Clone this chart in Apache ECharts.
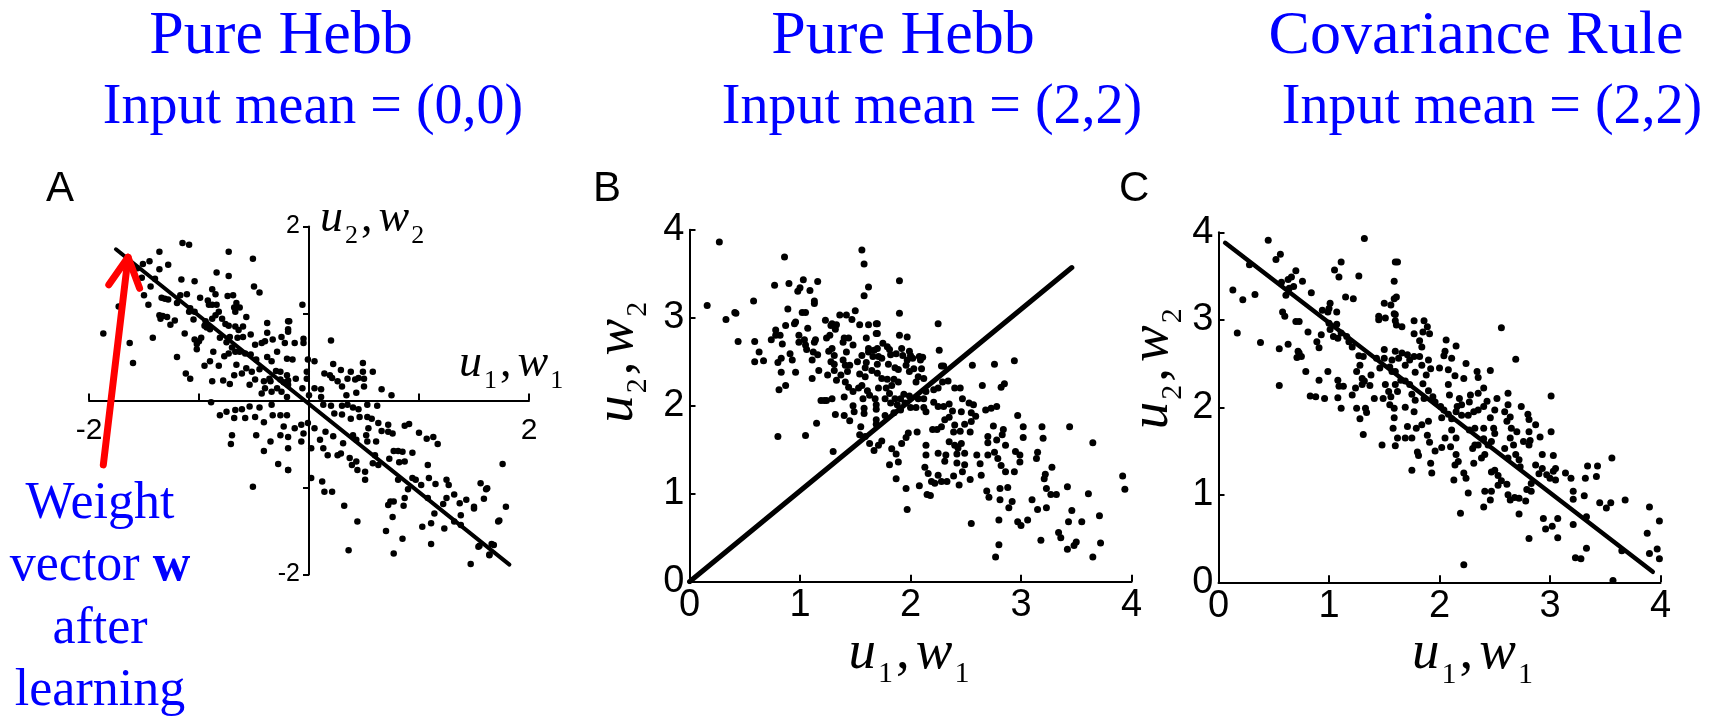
<!DOCTYPE html>
<html>
<head>
<meta charset="utf-8">
<title>Pure Hebb vs Covariance Rule</title>
<script src="https://cdn.jsdelivr.net/npm/echarts@6/dist/echarts.min.js"></script>
<style>
  html, body { margin: 0; padding: 0; background: #fff; }
  #chart { width: 1729px; height: 722px; }
</style>
</head>
<body>
<div id="chart"></div>
<script>
// text
const titles = ['Pure Hebb', 'Pure Hebb', 'Covariance Rule'];
const subtitles = ['Input mean = (0,0)', 'Input mean = (2,2)', 'Input mean = (2,2)'];
const panelLetters = ['A', 'B', 'C'];
const noteLines = 'Weight\nvector {b|w}\nafter\nlearning';

// axis ranges
const rangeA = [-2, 2];
const rangeBC = [0, 4];

// weight-vector direction lines (end points, data units)
const lineA = [[-1.755, 1.738], [1.822, -1.886]];
const lineB = [[0, 0], [3.46, 3.57]];
const lineC = [[0.06, 3.88], [3.93, 0.12]];

// red arrow in A
const arrowShaft = [[-1.87, -0.74], [-1.645, 1.646]];
const arrowHead = [[-1.82, 1.33], [-1.645, 1.646], [-1.54, 1.29]];

// samples
const pointsA = [
  [-1.87,0.77],[-1.73,1.08],[-1.63,0.66],[-1.60,0.43],[-1.15,1.81],[-1.09,1.79],[-1.36,1.71],[-1.45,1.60],[-1.51,1.57],[-1.56,1.52],
  [-1.52,1.41],[-1.50,1.21],[-1.46,1.10],[-1.42,0.72],[-1.36,1.51],[-1.28,1.56],[-1.40,1.40],[-1.44,1.31],[-1.34,1.18],[-1.31,1.17],
  [-1.28,1.16],[-1.36,0.98],[-1.33,0.97],[-1.29,0.96],[-1.26,0.87],[-1.35,0.94],[-1.22,0.92],[-1.20,1.12],[-1.17,1.21],[-1.16,1.39],
  [-1.11,1.22],[-1.04,1.37],[-1.09,1.02],[-1.08,1.06],[-1.13,0.77],[-1.20,0.50],[-1.12,0.31],[-1.08,0.25],[-1.05,0.93],[-1.04,1.02],
  [-0.99,1.18],[-0.91,1.10],[-0.92,1.15],[-1.04,0.70],[-1.02,0.65],[-1.02,0.59],[-1.00,0.68],[-0.98,0.72],[-0.94,0.91],[-0.95,0.86],
  [-0.93,0.84],[-0.90,0.82],[-0.88,0.94],[-0.84,1.47],[-0.88,1.28],[-0.85,1.22],[-0.88,1.10],[-0.84,1.10],[-0.85,0.98],[-0.82,1.02],
  [-0.87,0.56],[-0.95,0.40],[-0.90,0.45],[-0.88,0.22],[-0.79,0.94],[-0.76,0.88],[-0.81,0.72],[-0.75,0.67],[-0.72,0.73],[-0.70,0.61],
  [-0.73,0.54],[-0.77,0.51],[-0.82,0.40],[-0.73,1.71],[-0.73,1.43],[-0.74,1.20],[-0.69,1.21],[-0.68,1.07],[-0.67,1.02],[-0.66,1.12],
  [-0.63,1.07],[-0.73,0.86],[-0.67,0.85],[-0.64,0.81],[-0.60,0.85],[-0.57,0.96],[-0.65,0.72],[-0.60,0.73],[-0.67,0.56],[-0.63,0.56],
  [-0.58,0.54],[-0.66,0.41],[-0.61,0.31],[-0.68,0.29],[-0.78,0.23],[-0.72,0.19],[-0.51,1.63],[-0.50,1.31],[-0.45,1.24],[-0.53,0.76],
  [-0.49,0.64],[-0.43,0.66],[-0.40,0.68],[-0.53,0.53],[-0.48,0.47],[-0.57,0.37],[-0.52,0.33],[-0.49,0.24],[-0.54,0.18],[-0.45,0.36],
  [-0.38,0.89],[-0.38,0.78],[-0.33,0.70],[-0.38,0.50],[-0.34,0.45],[-0.36,0.25],[-0.41,0.22],[-0.29,0.56],[-0.25,0.73],[-0.22,0.66],
  [-0.19,0.82],[-0.20,0.48],[-0.26,0.33],[-0.23,0.21],[-0.30,0.34],[-0.18,0.91],
  [-0.89,-0.02],[-0.81,-0.17],[-0.75,-0.13],[-0.67,-0.11],[-0.61,-0.10],[-0.54,-0.07],[-0.49,-0.19],[-0.68,-0.20],[-0.58,-0.20],[-0.70,-0.40],
  [-0.71,-0.50],[-0.48,-0.40],[-0.41,-0.58],[-0.35,-0.47],[-0.28,-0.73],[-0.26,-0.40],[-0.51,-0.99],[-0.41,-0.25],[-0.33,-0.17],[-0.26,-0.17],
  [-0.23,-0.30],[-0.19,-0.80],[-0.20,-0.17],[-0.45,-0.08],[-0.34,-0.05],
  [-0.35,0.22],[-0.29,0.14],[-0.25,0.10],[-0.20,0.04],[-0.34,0.10],[-0.40,0.14],[-0.43,0.08],[-0.26,0.24],[-0.20,0.29],
  [-0.06,1.10],[-0.19,0.91],[-0.19,0.79],[-0.05,0.71],[-0.13,0.66],[-0.05,0.66],[0.20,0.69],[-0.15,0.47],[-0.01,0.47],[0.05,0.45],
  [-0.12,0.25],[-0.19,0.23],[-0.02,0.33],[-0.02,0.25],[-0.19,0.18],[-0.06,0.14],[0.00,0.06],[0.05,0.14],[0.11,0.13],[0.11,0.04],
  [0.14,0.31],[0.19,0.29],[0.22,0.42],[0.29,0.35],[0.21,0.26],[0.26,0.22],[0.30,0.16],[0.35,0.25],[0.38,0.33],[0.34,0.06],
  [0.42,0.24],[0.45,0.26],[0.49,0.43],[0.49,0.33],[0.50,0.25],[0.58,0.33],[0.50,0.16],[0.43,0.09],[0.66,0.13],[0.75,0.06],
  [0.62,-0.06],[0.53,-0.05],[0.45,-0.10],[0.40,-0.08],[0.35,-0.05],[0.30,-0.06],[0.20,-0.06],[0.13,-0.05],[0.23,-0.15],[0.30,-0.16],
  [0.38,-0.21],[0.46,-0.19],[0.53,-0.19],[0.57,-0.21],[0.63,-0.26],[0.72,-0.28],[0.66,-0.35],[0.72,-0.36],[0.76,-0.38],[0.54,-0.32],
  [0.52,-0.40],[0.53,-0.47],[0.61,-0.47],[0.40,-0.40],[0.43,-0.45],[0.31,-0.49],[0.22,-0.41],[0.15,-0.36],[0.05,-0.32],[-0.01,-0.26],
  [-0.07,-0.28],[-0.13,-0.32],[-0.05,-0.38],[-0.19,-0.42],[-0.07,-0.47],[-0.19,-0.55],[0.02,-0.55],[0.13,-0.55],[0.10,-0.45],[0.17,-0.63],
  [0.26,-0.63],[0.29,-0.61],[0.37,-0.66],[0.43,-0.70],[0.44,-0.80],[0.39,-0.74],[0.51,-0.82],[0.51,-0.91],[0.60,-0.63],[0.58,-0.72],
  [0.63,-0.74],[0.73,-0.67],[0.77,-0.58],[0.81,-0.58],[0.85,-0.59],[0.87,-0.70],[0.82,-0.71],[0.94,-0.60],[0.87,-0.29],[0.91,-0.27],
  [1.00,-0.37],[1.07,-0.44],[1.13,-0.42],[1.17,-0.50],[1.08,-0.74],[0.94,-0.89],[0.97,-0.91],[1.02,-0.97],[0.90,-1.02],[0.87,-1.12],
  [0.86,-1.21],[0.81,-0.91],[1.09,-0.89],[1.15,-0.96],[1.25,-0.91],[1.27,-0.97],[1.08,-1.12],[1.14,-1.30],[1.22,-1.19],[1.25,-1.12],
  [1.32,-1.08],[1.37,-1.18],[1.43,-1.14],[1.38,-1.32],[1.56,-0.95],[1.62,-1.01],[1.59,-1.13],[1.50,-1.24],[1.11,-1.41],[1.03,-1.45],
  [1.23,-1.47],[1.11,-1.65],[0.85,-1.59],[0.76,-1.34],[0.72,-1.20],[0.74,-1.16],[0.77,-1.16],[0.70,-1.50],[0.77,-1.76],[0.44,-1.39],
  [0.36,-1.72],[0.32,-1.21],[0.12,-0.93],[0.14,-1.05],[0.21,-1.05],[0.02,-0.89],[-0.19,-0.80],[1.47,-1.88],[1.55,-1.67],[1.64,-1.78],
  [1.68,-1.66],[1.72,-1.39],[1.32,-1.39],[1.38,-1.43],
  [1.76,-0.73],[1.79,-1.22],[1.73,-1.38],[1.61,-1.02],[1.66,-1.65],[1.54,-1.68],[1.64,-1.77],[1.50,-1.22]
];

const pointsB = [
  [0.27,3.86],[0.16,3.14],[0.33,2.98],[0.41,3.06],[0.42,3.05],[0.44,2.73],[0.58,3.19],[0.59,2.73],[0.63,2.61],[0.59,2.50],
  [0.67,2.51],[0.77,3.37],[0.86,3.69],[0.90,3.39],[1.00,3.34],[1.03,3.43],[0.98,3.30],[1.09,3.31],[1.16,3.41],[1.13,3.19],
  [1.13,3.16],[1.02,3.06],[1.05,3.06],[0.89,3.10],[0.78,2.86],[0.78,2.80],[0.82,2.80],[0.74,2.75],[0.87,2.91],[0.96,2.95],
  [0.95,2.93],[0.84,2.70],[0.91,2.59],[0.83,2.54],[0.80,2.49],[0.93,2.52],[0.83,2.38],[0.96,2.38],[0.81,2.18],[0.87,2.23],
  [0.80,1.65],[1.05,1.66],[0.99,2.80],[0.99,2.72],[1.04,2.75],[1.05,2.69],[1.06,2.64],[1.07,2.88],[1.11,2.52],[1.12,2.61],
  [1.11,2.31],[1.14,2.75],[1.13,2.72],[1.16,2.58],[1.17,2.40],[1.19,2.06],[1.22,2.06],[1.15,1.80],[1.23,2.97],[1.24,2.77],
  [1.26,2.62],[1.28,2.91],[1.29,2.93],[1.32,2.87],[1.33,2.92],[1.36,3.03],[1.27,2.80],[1.29,2.65],[1.31,2.57],[1.28,2.50],
  [1.31,2.47],[1.25,2.35],[1.33,2.29],[1.31,2.40],[1.37,2.35],[1.29,2.08],[1.24,2.06],[1.32,1.90],[1.30,1.48],[1.40,1.89],
  [1.45,1.83],[1.42,3.03],[1.47,2.98],[1.50,3.08],[1.40,2.77],[1.44,2.77],[1.39,2.72],[1.48,2.69],[1.42,2.61],[1.39,2.52],
  [1.41,2.46],[1.45,2.46],[1.43,2.39],[1.41,2.27],[1.44,2.21],[1.48,2.16],[1.40,2.10],[1.48,2.00],[1.49,1.93],[1.54,2.92],
  [1.56,3.77],[1.58,3.61],[1.62,3.35],[1.58,3.25],[1.62,2.92],[1.69,2.93],[1.69,2.82],[1.60,2.77],[1.62,2.65],[1.62,2.61],
  [1.56,2.57],[1.52,2.50],[1.60,2.49],[1.59,2.43],[1.65,2.40],[1.54,2.36],[1.59,2.33],[1.53,2.20],[1.56,2.23],[1.61,2.17],
  [1.57,2.08],[1.63,2.12],[1.68,2.08],[1.58,1.97],[1.58,1.91],[1.55,1.76],[1.54,1.67],[1.59,1.65],[1.63,1.57],[1.67,1.49],
  [1.69,1.84],[1.69,1.96],[1.71,1.55],[1.67,2.63],[1.66,2.56],[1.71,2.56],
  [1.90,3.42],[1.90,3.05],[2.25,2.93],[1.90,2.80],[1.97,2.78],[1.70,2.93],[1.70,2.82],[1.70,2.65],[1.75,2.71],[1.79,2.67],
  [1.81,2.64],[1.82,2.58],[1.87,2.59],[1.92,2.65],[1.93,2.57],[1.99,2.62],[2.00,2.57],[2.02,2.54],[2.08,2.56],[2.11,2.55],
  [2.09,2.52],[1.97,2.52],[1.74,2.54],[1.70,2.47],[1.80,2.47],[1.86,2.43],[1.89,2.41],[1.96,2.46],[2.03,2.42],[1.99,2.39],
  [2.10,2.42],[2.07,2.33],[2.12,2.31],[2.05,2.27],[2.26,2.63],[2.28,2.45],[2.30,2.45],[1.70,2.37],[1.74,2.31],[1.79,2.30],
  [1.85,2.30],[1.89,2.27],[1.83,2.23],[1.78,2.20],[1.71,2.20],[1.69,2.01],[1.77,2.08],[1.81,2.14],[1.82,2.03],[1.86,2.08],
  [1.88,2.01],[1.91,2.08],[1.94,2.13],[1.95,2.03],[1.91,1.95],[1.85,1.92],[1.77,1.89],[1.69,1.79],[1.99,2.11],[2.00,1.98],
  [2.05,1.98],[2.07,2.08],[2.12,2.08],[2.14,2.16],[2.21,2.18],[2.25,2.20],[2.29,2.27],[2.34,2.28],[2.40,2.20],[2.45,2.20],
  [2.47,2.08],[2.53,2.03],[2.55,1.92],[2.12,1.98],[2.14,1.93],[2.21,2.04],[2.25,1.99],[2.30,1.99],[2.35,2.02],[2.38,1.94],
  [2.46,1.93],[2.55,1.82],[2.59,1.88],[2.57,2.01],[2.65,2.23],[2.56,2.46],[2.76,2.47],[2.94,2.51],[2.82,2.21],[2.85,2.25],
  [2.68,1.95],[2.73,1.97],[2.78,1.99],[2.97,1.89],[2.75,1.77],[2.84,1.73],[2.83,1.67],[2.70,1.65],[2.70,1.58],[2.78,1.61],
  [2.86,1.55],[2.76,1.47],[2.70,1.44],[2.79,1.40],[2.82,1.32],[2.86,1.25],[2.94,1.25],[2.99,1.44],[2.99,1.36],[3.02,1.76],
  [3.02,1.64],[2.95,1.48],[3.15,1.47],[3.19,1.76],[3.20,1.63],[3.14,1.40],[3.28,1.30],[3.44,1.76],[3.22,1.22],[3.21,1.17],
  [3.23,1.06],[3.27,0.99],[3.32,0.99],[3.42,1.08],[3.10,0.93],[3.15,0.82],[3.23,0.84],[3.46,0.81],[3.43,0.68],[3.34,0.56],
  [3.36,0.50],[3.18,0.47],[3.42,0.37],[3.48,0.41],[3.50,0.45],[1.81,1.33],[1.89,1.36],[1.87,1.45],[1.87,1.17],[1.96,1.06],
  [1.97,0.82],[1.74,1.60],[1.83,1.51],[1.92,1.57],[1.96,1.64],[1.98,1.69],[2.06,1.70],[2.14,1.55],[2.14,1.44],[2.13,1.30],
  [2.16,1.23],[2.19,1.14],[2.08,1.09],[2.15,0.99],[2.20,1.73],[2.24,1.73],[2.28,1.76],[2.31,1.84],[2.35,1.87],[2.40,1.78],
  [2.39,1.70],[2.45,1.71],[2.49,1.79],[2.54,1.70],[2.25,1.46],[2.31,1.37],[2.32,1.44],[2.35,1.59],[2.40,1.55],[2.43,1.52],
  [2.46,1.57],[2.42,1.45],[2.49,1.46],[2.42,1.35],[2.49,1.33],[2.47,1.25],[2.25,1.21],[2.39,1.20],[2.33,1.14],[2.28,1.14],
  [2.22,1.12],[2.44,1.10],[2.54,1.16],[2.60,1.44],[2.63,1.34],[2.64,1.21],[2.69,1.03],[2.71,0.96],[2.81,0.93],[2.81,1.06],
  [2.88,1.07],[2.89,0.84],[2.92,0.91],[2.97,0.68],[3.00,0.64],[3.06,0.70],[2.80,0.70],[2.80,0.42],[2.77,0.28],[2.55,0.66],
  [2.18,0.98],
  [3.65,1.58],[3.92,1.20],[3.94,1.05],[3.61,1.00],[3.71,0.75],[3.72,0.44],[3.65,0.28],[3.55,0.68]
];

const pointsC = [
  [0.45,3.91],[0.52,3.69],[0.56,3.75],[0.28,3.63],[0.13,3.34],[0.22,3.23],[0.33,3.29],[0.17,2.85],[0.38,2.74],[0.55,2.67],
  [0.55,2.25],[0.57,3.43],[0.63,3.46],[0.66,3.49],[0.70,3.56],[0.76,3.44],[0.61,3.28],[0.64,3.36],[0.68,3.38],[0.58,3.09],
  [0.60,3.04],[0.70,2.98],[0.73,2.98],[0.63,2.72],[0.72,2.64],[0.73,2.62],[0.75,2.58],[0.71,2.57],[0.79,2.41],[0.84,3.31],
  [0.81,2.86],[0.89,2.75],[0.93,2.83],[0.91,2.68],[0.94,3.11],[0.99,3.09],[1.01,3.19],[1.00,3.13],[1.07,3.09],[1.05,3.57],
  [1.09,3.49],[1.11,3.66],[1.15,3.26],[1.22,3.24],[1.27,3.50],[1.32,3.93],[1.00,2.96],[1.07,2.95],[1.01,2.89],[1.04,2.81],
  [1.08,2.79],[1.11,2.85],[1.16,2.81],[1.18,2.75],[1.21,2.69],[0.91,2.31],[0.99,2.41],[0.83,2.13],[0.88,2.12],[0.96,2.10],
  [1.08,2.31],[1.09,2.24],[1.13,2.24],[1.08,2.11],[1.11,1.99],[1.21,2.14],[1.24,2.22],[1.25,2.41],[1.28,2.48],[1.31,2.58],
  [1.27,2.59],[1.30,2.33],[1.32,2.30],[1.30,2.26],[1.38,2.37],[1.37,2.25],[1.25,1.99],[1.28,1.87],[1.31,1.69],[1.33,1.99],
  [1.34,1.94],[1.41,2.10],[1.49,2.10],[1.48,1.57],[1.43,2.56],[1.46,2.45],[1.50,2.66],[1.45,3.04],[1.51,3.02],[1.45,3.00],
  [1.50,2.56],[1.57,2.54],[1.55,2.46],[1.57,2.41],[1.51,2.26],[1.54,2.18],[1.56,2.12],[1.55,2.03],[1.59,1.99],[1.58,1.76],
  [1.59,1.88],[1.60,1.56],[1.59,3.44],[1.60,3.66],[1.60,2.99],[1.60,3.06],[1.56,3.17],[1.50,3.19],[1.59,3.24],[1.59,3.07],
  [1.62,3.66],[1.61,3.26],[1.61,2.94],[1.66,2.92],[2.56,2.91],[2.69,2.55],[3.01,2.13],[1.77,2.99],[1.86,2.99],[1.89,2.92],
  [1.77,2.84],[1.85,2.86],[1.91,2.84],[1.82,2.76],[1.84,2.69],[2.06,2.77],[2.15,2.70],[2.05,2.64],[2.04,2.59],[2.11,2.56],
  [2.00,2.45],[2.08,2.43],[2.24,2.50],[2.14,2.36],[2.22,2.33],[2.34,2.41],[2.35,2.34],[2.46,2.42],[2.40,2.22],[2.35,2.16],
  [2.28,2.14],[2.27,2.06],[2.08,2.26],[2.09,2.14],[2.18,2.10],[2.20,2.03],[1.60,2.64],[1.63,2.56],[1.66,2.62],[1.71,2.60],
  [1.73,2.54],[1.69,2.48],[1.77,2.58],[1.82,2.58],[1.84,2.48],[1.90,2.54],[1.92,2.44],[1.88,2.37],[1.78,2.40],[1.60,2.41],
  [1.65,2.31],[1.60,2.26],[1.62,2.18],[1.69,2.30],[1.73,2.26],[1.75,2.15],[1.78,2.08],[1.85,2.27],[1.90,2.19],[1.86,2.10],
  [1.94,2.12],[1.96,2.06],[2.01,2.01],[2.04,1.97],[2.08,1.92],[2.02,1.88],[2.11,1.87],[2.15,1.95],[2.16,2.01],[2.20,1.91],
  [2.26,1.91],[2.31,1.95],[2.35,1.97],[2.40,2.01],[2.43,2.07],[2.50,1.97],[2.46,1.88],[2.59,1.95],[2.64,1.89],[2.61,1.84],
  [2.65,1.76],[2.70,1.72],[2.74,2.01],[2.80,1.92],[2.81,1.86],[2.62,2.03],[2.62,2.16],[2.52,2.10],[1.90,1.84],[1.84,1.80],
  [1.79,1.76],[1.75,1.65],[1.69,1.65],[1.62,1.65],[1.89,1.68],[1.91,1.60],[1.80,1.49],[1.81,1.45],[1.75,1.28],[1.93,1.25],
  [1.92,1.36],[1.96,1.50],[2.02,1.54],[2.05,1.65],[2.11,1.74],[2.15,1.65],[2.10,1.55],[2.15,1.46],[2.17,1.38],[2.14,1.34],
  [2.13,1.17],[2.22,1.25],[2.24,1.19],[2.26,1.02],[2.19,0.79],[2.22,0.20],[2.31,1.36],[2.30,1.53],[2.32,1.57],[2.35,1.57],
  [2.38,1.42],[2.41,1.46],[2.44,1.57],[2.47,1.61],[2.50,1.70],[2.49,1.76],[2.40,1.76],[2.40,1.64],[2.32,1.76],[2.27,1.74],
  [2.47,1.26],[2.50,1.28],[2.53,1.22],[2.56,1.16],[2.61,1.12],[2.53,1.11],[2.47,1.04],[2.41,1.04],[2.46,0.94],[2.40,0.86],
  [2.62,1.00],[2.64,0.94],[2.68,0.97],[2.72,0.96],[2.78,0.93],[2.79,1.06],[2.83,1.13],[2.83,1.04],[2.72,0.78],[2.81,0.50],
  [2.59,1.53],[2.64,1.65],[2.67,1.57],[2.62,1.42],[2.69,1.46],[2.72,1.40],[2.73,1.32],[2.76,1.61],[2.81,1.57],[2.81,1.72],
  [2.82,1.62],[2.87,1.34],[2.93,1.30],[2.90,1.24],[2.97,1.23],[3.00,1.19],[3.03,1.27],[3.05,1.17],[2.93,1.46],[3.01,1.72],
  [3.03,1.45],[3.05,1.30],[2.91,1.66],[2.87,1.80],[2.94,0.73],[2.96,0.61],[3.02,0.64],[3.07,0.73],[3.07,0.51],[3.14,1.25],
  [3.19,1.19],[3.21,1.04],[3.21,0.95],[3.21,0.66],[3.34,1.33],[3.32,1.19],[3.31,0.99],[3.33,0.75],[3.33,0.39],[3.23,0.28],
  [3.28,0.27],[1.71,1.78],[1.77,1.95],[1.69,2.00],
  [3.43,1.33],[3.56,1.42],[3.68,0.94],[3.45,0.91],[3.51,0.85],[3.55,0.91],[3.90,0.86],[3.88,0.56],[3.99,0.70],[3.90,0.33],
  [3.97,0.38],[3.99,0.27],[3.57,0.02],[3.65,0.36],[3.42,1.21]
];

const sansFont = '"Liberation Sans", Arial, sans-serif';
const serifFont = '"Liberation Serif", "Times New Roman", serif';
const blue = '#0000ff';

// u_i, w_i axis names: italic letter, upright lowered subscript
function nameRich(size, sub, drop) {
  return {
    v: { fontFamily: serifFont, fontStyle: 'italic', fontSize: size, color: '#000', fill: '#000' },
    s: { fontFamily: serifFont, fontSize: sub, color: '#000', fill: '#000', padding: [drop, 3, 0, 2] },
    c: { fontFamily: serifFont, fontSize: size, color: '#000', fill: '#000', padding: [0, 6, 0, 0] }
  };
}
const richA = nameRich(46, 26, 34);
const richBC = nameRich(55, 30, 42);
const axisName = (i) => `{v|u}{s|${i}}{c|,}{v|w}{s|${i}}`;

const axisLineStyle = { color: '#000', width: 2 };

function panelAxes(grid, range, labelSize, opts) {
  const x = {
    gridIndex: grid, type: 'value', min: range[0], max: range[1], interval: 1,
    position: 'bottom', offset: opts.xOffset || 0,
    axisLine: { onZero: false, lineStyle: axisLineStyle },
    axisTick: { inside: true, length: 7, lineStyle: axisLineStyle },
    axisLabel: {
      color: '#000', fontFamily: sansFont, fontSize: labelSize[0], margin: opts.xMargin,
      showMinLabel: true, showMaxLabel: true, formatter: opts.formatter
    },
    splitLine: { show: false }
  };
  const y = {
    gridIndex: grid, type: 'value', min: range[0], max: range[1], interval: 1,
    position: 'left', offset: opts.yOffset || 0,
    axisLine: { onZero: false, lineStyle: axisLineStyle },
    axisTick: { inside: opts.yTickInside, length: 6, lineStyle: axisLineStyle },
    axisLabel: {
      color: '#000', fontFamily: sansFont, fontSize: labelSize[1], margin: opts.yMargin,
      showMinLabel: true, showMaxLabel: true, formatter: opts.formatter
    },
    splitLine: { show: false }
  };
  if (opts.names) {
    x.name = axisName(1);
    x.nameLocation = 'middle';
    x.nameGap = opts.names.xGap;
    x.nameTextStyle = { rich: richBC, padding: [0, 0, 0, opts.names.xShift] };
    y.name = axisName(2);
    y.nameLocation = 'middle';
    y.nameGap = opts.names.yGap;
    y.nameTextStyle = { rich: richBC, padding: [0, 0, 0, opts.names.yShift] };
  }
  return [x, y];
}

// grid A: 440 x 348 px, axes cross at the origin
const [xA, yA] = panelAxes(0, rangeA, [30, 25], {
  xOffset: -174, yOffset: -220, yTickInside: false, xMargin: 15, yMargin: 9,
  formatter: v => (Math.abs(v) === 2 ? String(v) : '')
});
const [xB, yB] = panelAxes(1, rangeBC, [38, 38], {
  yTickInside: true, xMargin: 5, yMargin: 5,
  names: { xGap: 33, xShift: 0, yGap: 36, yShift: 90 }
});
const [xC, yC] = panelAxes(2, rangeBC, [38, 38], {
  yTickInside: true, xMargin: 5, yMargin: 5,
  names: { xGap: 33, xShift: 69, yGap: 30, yShift: 80 }
});

const scatter = (idx, data, size) => ({
  type: 'scatter', xAxisIndex: idx, yAxisIndex: idx, data, symbol: 'circle',
  symbolSize: size, itemStyle: { color: '#000', opacity: 1 }, silent: true
});
const segment = (idx, data, color, width) => ({
  type: 'line', xAxisIndex: idx, yAxisIndex: idx, data, symbol: 'none', silent: true,
  lineStyle: { color, width, cap: 'round', join: 'round' }
});

// title / letter positions (px)
const titleX = [281, 903, 1476];
const subtitleX = [313, 932, 1492];
const letterX = [46, 593, 1119];

const graphics = [];
titles.forEach((t, i) => {
  graphics.push({ type: 'text', x: titleX[i], y: 37, silent: true,
    style: { text: t, fontFamily: serifFont, fontSize: 62, fill: blue, align: 'center', verticalAlign: 'middle' } });
  graphics.push({ type: 'text', x: subtitleX[i], y: 108, silent: true,
    style: { text: subtitles[i], fontFamily: serifFont, fontSize: 56, fill: blue, align: 'center', verticalAlign: 'middle' } });
  graphics.push({ type: 'text', x: letterX[i], y: 189, silent: true,
    style: { text: panelLetters[i], fontFamily: sansFont, fontSize: 42, fill: '#000', align: 'left', verticalAlign: 'middle' } });
});
// panel A axis names sit next to the crossing axes
graphics.push({ type: 'text', x: 320, y: 219, silent: true,
  style: { text: axisName(2), rich: richA, align: 'left', verticalAlign: 'middle' } });
graphics.push({ type: 'text', x: 459, y: 364, silent: true,
  style: { text: axisName(1), rich: richA, align: 'left', verticalAlign: 'middle' } });
graphics.push({ type: 'text', x: 100, y: 473, silent: true,
  style: {
    text: noteLines, fontFamily: serifFont, fontSize: 52, lineHeight: 62.5, fill: blue,
    align: 'center', verticalAlign: 'top',
    rich: { b: { fontFamily: serifFont, fontSize: 52, fontWeight: 'bold', fill: blue, lineHeight: 62.5 } }
  } });

const chart = echarts.init(document.getElementById('chart'));
chart.setOption({
  animation: false,
  backgroundColor: '#fff',
  grid: [
    { left: 89, top: 226.5, width: 440, height: 348, containLabel: false, outerBoundsMode: 'none' },
    { left: 689.5, top: 229.7, width: 442, height: 352, containLabel: false, outerBoundsMode: 'none' },
    { left: 1218.5, top: 232.3, width: 442, height: 350, containLabel: false, outerBoundsMode: 'none' }
  ],
  xAxis: [xA, xB, xC],
  yAxis: [yA, yB, yC],
  series: [
    scatter(0, pointsA, 6.5),
    segment(0, lineA, '#000', 4),
    scatter(1, pointsB, 7),
    segment(1, lineB, '#000', 5),
    scatter(2, pointsC, 7),
    segment(2, lineC, '#000', 4.5),
    segment(0, arrowShaft, '#ff0000', 7),
    segment(0, arrowHead, '#ff0000', 7)
  ],
  graphic: graphics
});
</script>
</body>
</html>
